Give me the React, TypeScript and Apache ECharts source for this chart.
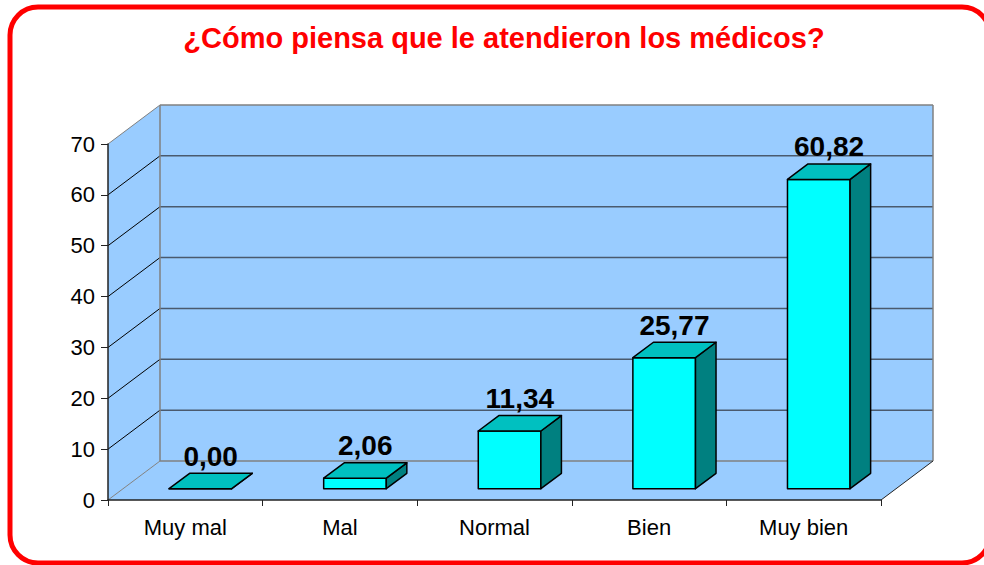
import React, { useEffect, useRef } from "react";
import * as echarts from "echarts";

const titleText = "¿Cómo piensa que le atendieron los médicos?";
const categories = ["Muy mal", "Mal", "Normal", "Bien", "Muy bien"];
const values = [0.0, 2.06, 11.34, 25.77, 60.82];
const yTicks = [0, 10, 20, 30, 40, 50, 60, 70];

const FONT = "'Liberation Sans', Arial, sans-serif";
const DX = 52;
const DY = -39;
const F0 = 0.29;
const F1 = 0.685;
const BAR_RATIO = 0.405;
const WALL = "#99CCFF";
const EDGE = "#808080";
const GRID = "#4a5a6e";

function fmt(v: number) {
  return v.toFixed(2).replace(".", ",");
}

export default function App() {
  const ref = useRef<HTMLDivElement>(null);
  useEffect(() => {
    if (!ref.current) return;
    const chart = echarts.init(ref.current, null, { renderer: "svg" });

    const renderWalls = (params: any, api: any) => {
      const cs = params.coordSys;
      const x0 = cs.x;
      const x1 = cs.x + cs.width;
      const yt = cs.y;
      const yb = cs.y + cs.height;
      const children: any[] = [];
      children.push({
        type: "polygon",
        shape: { points: [[x0, yb], [x1, yb], [x1 + DX, yb + DY], [x0 + DX, yb + DY]] },
        style: { fill: WALL, stroke: "none" },
      });
      children.push({
        type: "polygon",
        shape: { points: [[x0, yb], [x0, yt], [x0 + DX, yt + DY], [x0 + DX, yb + DY]] },
        style: { fill: WALL, stroke: "none" },
      });
      children.push({
        type: "rect",
        shape: { x: x0 + DX, y: yt + DY, width: cs.width, height: cs.height },
        style: { fill: WALL, stroke: "none" },
      });
      yTicks.forEach((t) => {
        const y = api.coord([0, t])[1];
        const inner = t !== yTicks[0] && t !== yTicks[yTicks.length - 1];
        children.push({
          type: "line",
          shape: { x1: x0 + DX, y1: y + DY, x2: x1 + DX, y2: y + DY },
          style: { stroke: inner ? GRID : EDGE, lineWidth: 1.5 },
        });
        children.push({
          type: "line",
          shape: { x1: x0, y1: y, x2: x0 + DX, y2: y + DY },
          style: { stroke: inner ? "#000" : EDGE, lineWidth: 1 },
        });
      });
      children.push({
        type: "line",
        shape: { x1: x0 + DX, y1: yt + DY, x2: x0 + DX, y2: yb + DY },
        style: { stroke: EDGE, lineWidth: 1.5 },
      });
      children.push({
        type: "line",
        shape: { x1: x1 + DX, y1: yt + DY, x2: x1 + DX, y2: yb + DY },
        style: { stroke: EDGE, lineWidth: 1.5 },
      });
      children.push({
        type: "line",
        shape: { x1: x1, y1: yb, x2: x1 + DX, y2: yb + DY },
        style: { stroke: "#222", lineWidth: 1 },
      });
      return { type: "group", children };
    };

    const renderBar = (params: any, api: any) => {
      const i = api.value(0);
      const v = api.value(1);
      const base = api.coord([i, 0]);
      const top = api.coord([i, v]);
      const catW = api.size([1, 0])[0];
      const bw = catW * BAR_RATIO;
      const fx = DX * F0;
      const fy = DY * F0;
      const ddx = DX * (F1 - F0);
      const ddy = DY * (F1 - F0);
      const left = base[0] + fx - bw / 2;
      const right = left + bw;
      const yB = base[1] + fy;
      const yT = top[1] + fy;
      const stroke = { stroke: "#000", lineWidth: 1.5, lineJoin: "round" };
      return {
        type: "group",
        children: [
          {
            type: "polygon",
            shape: { points: [[left, yT], [right, yT], [right, yB], [left, yB]] },
            style: { fill: "#00FFFF", ...stroke },
          },
          {
            type: "polygon",
            shape: { points: [[right, yT], [right + ddx, yT + ddy], [right + ddx, yB + ddy], [right, yB]] },
            style: { fill: "#008080", ...stroke },
          },
          {
            type: "polygon",
            shape: { points: [[left, yT], [right, yT], [right + ddx, yT + ddy], [left + ddx, yT + ddy]] },
            style: { fill: "#00C0C0", ...stroke },
          },
          {
            type: "text",
            style: {
              text: fmt(v),
              x: (left + right) / 2 + ddx / 2,
              y: yT + ddy - 17,
              align: "center",
              verticalAlign: "middle",
              fill: "#000",
              font: `bold 28px ${FONT}`,
            },
          },
        ],
      };
    };

    chart.setOption({
      animation: false,
      title: {
        text: titleText,
        left: 499,
        top: 18,
        textAlign: "center",
        textStyle: { fontSize: 29, fontWeight: "bold", color: "#FF0000", fontFamily: FONT },
      },
      graphic: [
        {
          type: "rect",
          shape: { x: 10, y: 7, width: 980, height: 556, r: 28 },
          style: { fill: "none", stroke: "#FF0000", lineWidth: 5 },
          z: 100,
        },
      ],
      grid: { left: 108, right: 103, top: 144, bottom: 65 },
      xAxis: {
        type: "category",
        data: categories,
        z: 10,
        axisLine: { show: true, lineStyle: { color: "#222", width: 1.5 } },
        axisTick: { show: true, length: 6, lineStyle: { color: "#222" } },
        axisLabel: { fontSize: 22, color: "#000", fontFamily: FONT, margin: 16 },
        splitLine: { show: false },
      },
      yAxis: {
        type: "value",
        min: 0,
        max: 70,
        interval: 10,
        z: 10,
        axisLine: { show: true, lineStyle: { color: "#222", width: 1.5 } },
        axisTick: { show: true, length: 7, lineStyle: { color: "#222" } },
        axisLabel: { fontSize: 22, color: "#000", fontFamily: FONT, margin: 13 },
        splitLine: { show: false },
      },
      series: [
        {
          type: "custom",
          renderItem: renderWalls,
          data: [[0, 0]],
          z: 1,
          clip: false,
          silent: true,
        },
        {
          type: "custom",
          renderItem: renderBar,
          data: values.map((v, i) => [i, v]),
          encode: { x: 0, y: 1 },
          z: 3,
          clip: false,
        },
      ],
    });
    return () => chart.dispose();
  }, []);
  return (
    <div
      ref={ref}
      style={{ position: "fixed", left: 0, top: 0, width: 984, height: 565, background: "#fff" }}
    />
  );
}
